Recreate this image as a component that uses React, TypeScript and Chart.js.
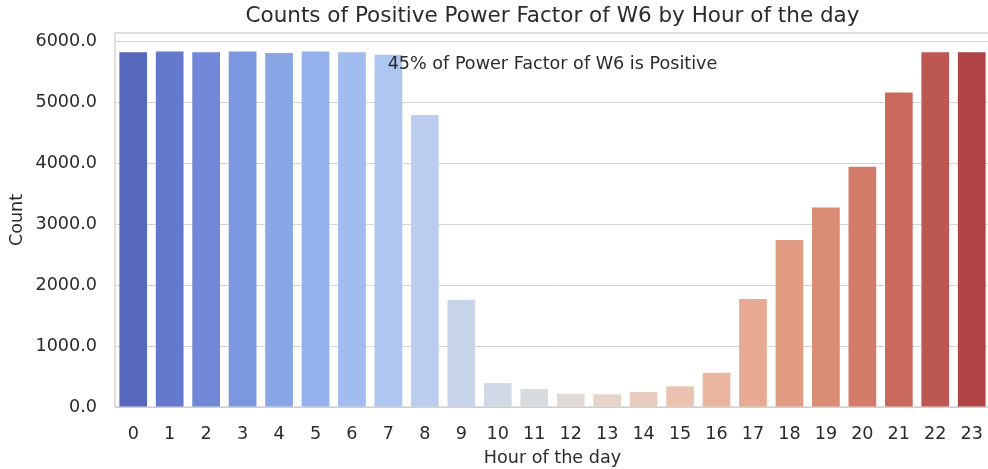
import React, { useEffect, useRef } from "react";
import { Chart, registerables } from "chart.js";

Chart.register(...registerables);

const hours = ["0","1","2","3","4","5","6","7","8","9","10","11","12","13","14","15","16","17","18","19","20","21","22","23"];
const counts = [5825, 5836, 5825, 5836, 5814, 5836, 5825, 5782, 4795, 1762, 393, 295, 218, 208, 246, 339, 563, 1773, 2743, 3274, 3946, 5164, 5825, 5825];
const yTicks = [0, 1000, 2000, 3000, 4000, 5000, 6000];
const barColors = [
  "#5769be", "#6479cc", "#7088d7", "#7b97df", "#88a5e6", "#95b1ec", "#a2bcf0", "#aec6f2",
  "#bbcdef", "#c8d4ea", "#d0d9e6", "#d9dcdf", "#e0dad6", "#e6d4cb", "#e9cebf", "#ebc3b0",
  "#eab6a0", "#e8aa92", "#e39c84", "#da8c75", "#d37b68", "#c9695b", "#bc5751", "#ae4245"
];
const titleText = "Counts of Positive Power Factor of W6 by Hour of the day";
const noteText = "45% of Power Factor of W6 is Positive";
const yMax = 6141;

const FONT = "'DejaVu Sans', sans-serif";
const TEXT = "#2b2b2b";

export default function App() {
  const ref = useRef<HTMLCanvasElement | null>(null);

  useEffect(() => {
    const canvas = ref.current;
    if (!canvas) return;

    const overlay = {
      id: "overlay",
      beforeDatasetsDraw(chart: any) {
        const { ctx, chartArea } = chart;
        ctx.save();
        ctx.strokeStyle = "#cccccc";
        ctx.lineWidth = 1.25;
        ctx.strokeRect(chartArea.left, chartArea.top, chartArea.right - chartArea.left, chartArea.bottom - chartArea.top);
        ctx.restore();
      },
      afterDraw(chart: any) {
        const { ctx, chartArea, scales } = chart;
        ctx.save();
        ctx.fillStyle = TEXT;
        ctx.font = `21.5px ${FONT}`;
        ctx.textAlign = "center";
        ctx.textBaseline = "middle";
        const cx = (chartArea.left + chartArea.right) / 2;
        ctx.fillText(titleText, cx, 16);
        ctx.font = `17.6px ${FONT}`;
        ctx.fillText(noteText, scales.x.getPixelForValue(11.5), scales.y.getPixelForValue(5620));
        ctx.restore();
      },
    };

    const chart = new Chart(canvas, {
      type: "bar",
      data: {
        labels: hours,
        datasets: [
          {
            data: counts,
            backgroundColor: barColors,
            borderWidth: 0,
            barPercentage: 0.76,
            categoryPercentage: 1,
          },
        ],
      },
      options: {
        animation: false,
        responsive: false,
        maintainAspectRatio: false,
        layout: { padding: { left: 0, top: 33, right: 4, bottom: 0 } },
        plugins: {
          legend: { display: false },
          tooltip: { enabled: false },
          title: { display: false },
        },
        scales: {
          x: {
            grid: { display: false, drawTicks: false },
            border: { display: false },
            ticks: { color: TEXT, font: { family: FONT, size: 17.6 }, padding: 17, maxRotation: 0, autoSkip: false },
            title: { display: true, text: "Hour of the day", color: TEXT, font: { family: FONT, size: 17.6 }, padding: { top: 0, bottom: 0 } },
            afterFit(scale: any) { scale.height = 62; },
          },
          y: {
            min: 0,
            max: yMax,
            grid: { color: "#d5d5d5", lineWidth: 1, drawTicks: false },
            border: { display: false },
            ticks: {
              autoSkip: false,
              color: TEXT,
              font: { family: FONT, size: 17.6 },
              padding: 18,
              callback: (v: any) => Number(v).toFixed(1),
            },
            afterBuildTicks(scale: any) {
              scale.ticks = yTicks.map((v) => ({ value: v }));
            },
            title: { display: true, text: "Count", color: TEXT, font: { family: FONT, size: 17.6 }, padding: { top: 7, bottom: 0 } },
            afterFit(scale: any) { scale.width = 115; },
          },
        },
      },
      plugins: [overlay],
    });

    return () => chart.destroy();
  }, []);

  return (
    <div style={{ position: "fixed", left: 0, top: 0, width: 988, height: 469, overflow: "hidden", background: "#fff" }}>
      <canvas ref={ref} width={1000} height={469} style={{ display: "block", width: 1000, height: 469 }} />
    </div>
  );
}
